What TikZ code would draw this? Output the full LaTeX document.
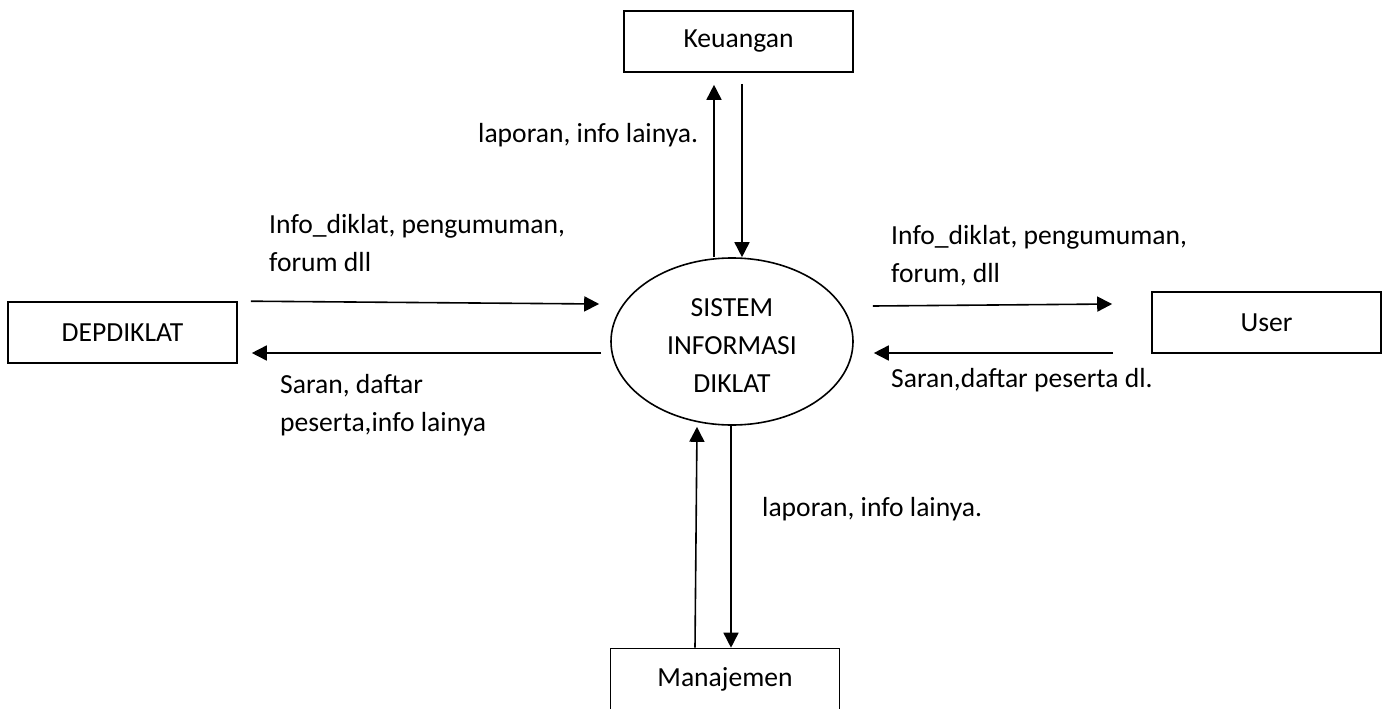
\documentclass[tikz,border=0pt]{standalone}
\usepackage{fontspec}
\setmainfont{Carlito}
\usetikzlibrary{arrows.meta,shapes.geometric,calc}
\tikzset{
    %Define standard arrow tip
    >={Triangle[length=15pt,width=15pt]},
    entity/.style={draw, line width=1.6pt, minimum width=229pt, minimum height=61pt, inner sep=0pt},
    flow/.style={->, line width=1.6pt},
    lbl/.style={anchor=base west, inner sep=0pt, align=left}
}

\begin{document}
\begin{tikzpicture}[x=1pt, y=-1pt, font=\fontsize{27.6}{38}\selectfont]
    \useasboundingbox (0,0) rectangle (1382,709);
    % the system and the four outside parties
    \node[ellipse, draw, line width=1.6pt, minimum width=242pt, minimum height=167pt, inner sep=0pt,
        label={[align=center, yshift=-4pt]center:SISTEM\\INFORMASI\\DIKLAT}] (sid) at (732,341.5) {};
    \node[entity] (keu) at (738.5,41.5) {Keuangan};
    \node[entity] (dep) at (122.5,332.5) {DEPDIKLAT};
    \node[entity] (usr) at (1266.5,322.5) {User};
    \node[entity] (man) at (725,679) {Manajemen};
    % flows
    \draw[flow] ($(sid.north)+(-18,0)$) -- ($(keu.south)+(-24.5,12)$);
    \draw[flow] ($(keu.south)+(3.5,11)$) -- ($(sid.north)+(10,0)$);
    \draw[flow] ($(man.north)+(-30,0)$) -- ($(sid.south)+(-35,1)$);
    \draw[flow] ($(sid.south)+(-1,0)$) -- ($(man.north)+(6,0)$);
    \draw[flow] ($(dep.north east)+(13,0)$) -- ($(sid.west)+(-11,-37.5)$);
    \draw[flow] ($(sid.west)+(-9,11.5)$) -- ($(dep.east)+(14,20.5)$);
    \draw[flow] ($(sid.east)+(19,-35.5)$) -- ($(usr.west)+(-39,-18.5)$);
    \draw[flow] ($(usr.west)+(-38,30.5)$) -- ($(sid.east)+(20,11.5)$);
    % labels
    \node[lbl] (lbkeu) at (478,142) {laporan, info lainya.};
    \node[lbl] (lbman) at (762,516) {laporan, info lainya.};
    \node[lbl] (lbdin) at (269,271) {Info\_diklat, pengumuman,\\forum dll};
    \node[lbl] (lbdout) at (280,431) {Saran, daftar\\peserta,info lainya};
    \node[lbl] (lbuin) at (891,282) {Info\_diklat, pengumuman,\\forum, dll};
    \node[lbl] (lbuout) at (891,387) {Saran,daftar peserta dl.};
\end{tikzpicture}
\end{document}
